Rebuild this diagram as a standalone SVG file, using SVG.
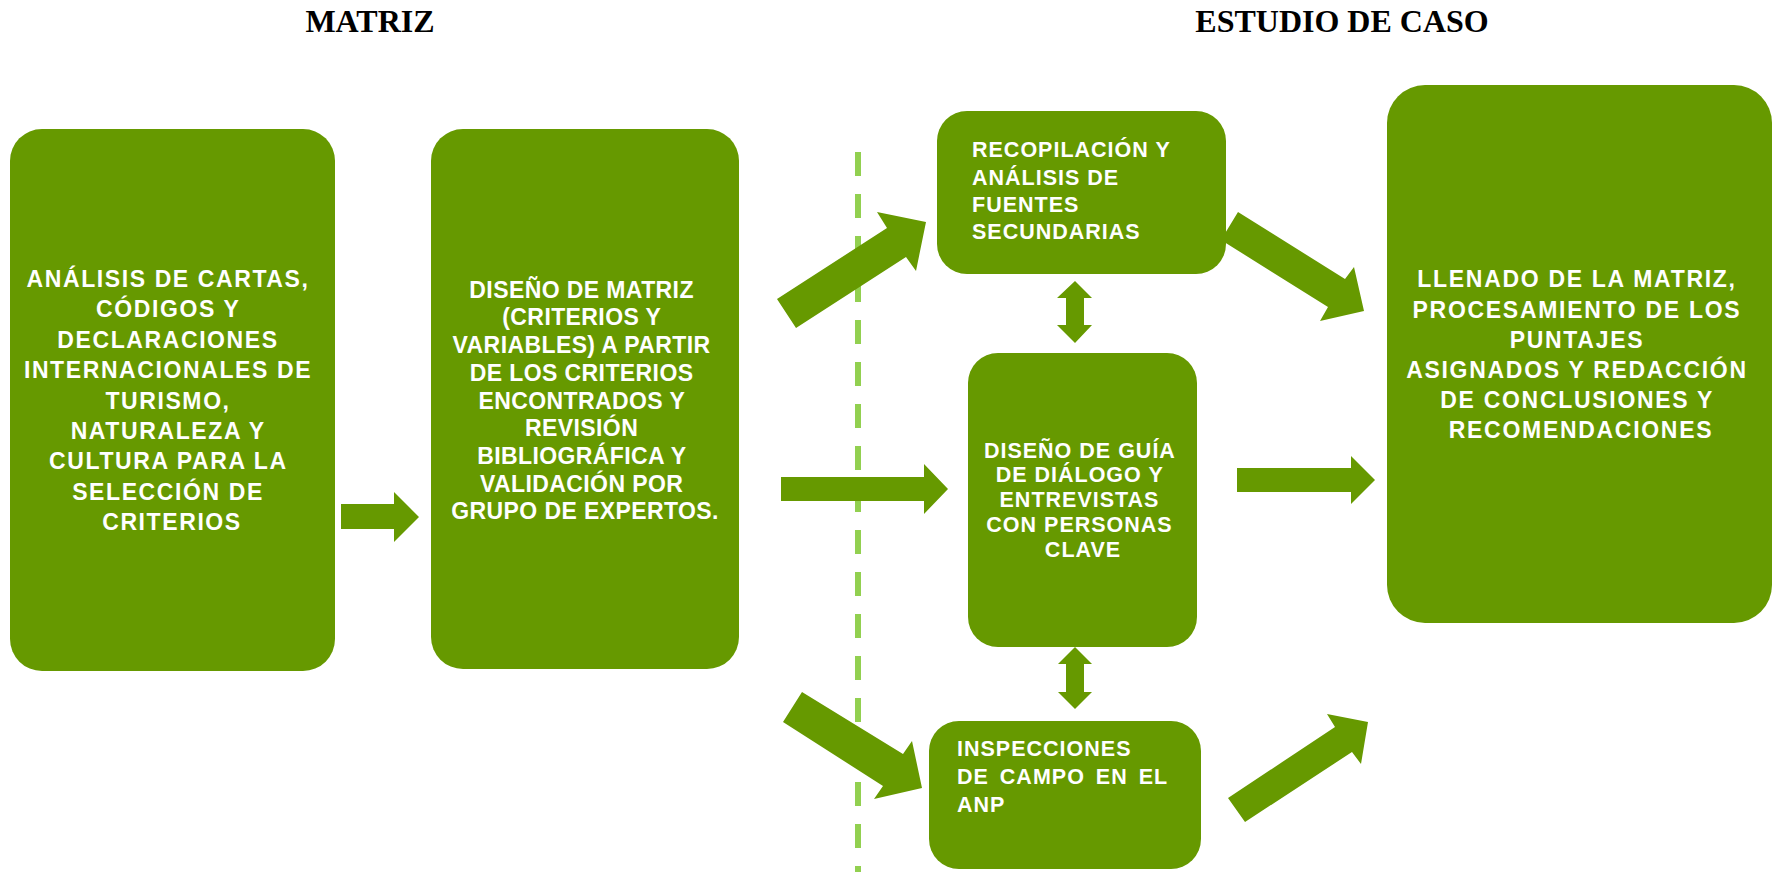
<svg xmlns="http://www.w3.org/2000/svg" width="1772" height="872" viewBox="0 0 1772 872">
<style>
.box{fill:#669900}
.arr{fill:#669900}
.title{font-family:"Liberation Serif","Times New Roman",serif;font-weight:bold;font-size:32px;fill:#000;text-anchor:middle}
.t{font-family:"Liberation Sans",Arial,sans-serif;font-weight:bold;fill:#fff}
.c{text-anchor:middle}
.sep{stroke:#92D050;stroke-width:6;stroke-dasharray:24 18;fill:none}
</style>
<rect width="1772" height="872" fill="#fff"/>
<text class="title" x="370" y="32">MATRIZ</text>
<text class="title" x="1342" y="32">ESTUDIO DE CASO</text>
<line id="separator" class="sep" x1="858" y1="152" x2="858" y2="872"/>
<g id="connectors">
<polygon class="arr" points="341,504 394,504 394,492 419,517 394,542 394,529 341,529"/>
<polygon class="arr" points="781,477 924,477 924,464 948,489 924,514 924,501 781,501"/>
<polygon class="arr" points="1237,468 1351,468 1351,456 1375,480 1351,504 1351,492 1237,492"/>
<polygon class="arr" points="777,299 887,228 877,212 926,222 916,271 906,257 796,328"/>
<polygon class="arr" points="1238,212 1345,279 1354,267 1364,311 1320,321 1328,307 1221,240"/>
<polygon class="arr" points="802,692 903,754 912,741 922,788 874,799 883,786 783,722"/>
<polygon class="arr" points="1228,798 1335,727 1327,714 1368,722 1361,764 1352,752 1245,822"/>
<polygon class="arr" points="1075,281 1092,298 1084,298 1084,325 1092,325 1075,343 1057,325 1066,325 1066,298 1057,298"/>
<polygon class="arr" points="1075,647 1092,664 1084,664 1084,692 1092,692 1075,709 1058,692 1066,692 1066,664 1058,664"/>
</g>
<g id="analisis">
<rect class="box" x="10" y="129" width="325" height="542" rx="32" ry="32"/>
<text class="t c" font-size="23" letter-spacing="1.6">
<tspan x="172" y="287">ANÁLISIS DE CARTAS,</tspan>
<tspan x="172" y="317.4">CÓDIGOS Y</tspan>
<tspan x="172" y="347.8">DECLARACIONES</tspan>
<tspan x="172" y="378.2">INTERNACIONALES DE</tspan>
<tspan x="172" y="408.6">TURISMO,</tspan>
<tspan x="172" y="439">NATURALEZA Y</tspan>
<tspan x="172" y="469.4">CULTURA PARA LA</tspan>
<tspan x="172" y="499.8">SELECCIÓN DE</tspan>
<tspan x="172" y="530.2">CRITERIOS</tspan>
</text>
</g>
<g id="diseno-matriz">
<rect class="box" x="431" y="129" width="308" height="540" rx="32" ry="32"/>
<text class="t c" font-size="23" letter-spacing="0.4">
<tspan x="585" y="297.7">DISEÑO DE MATRIZ</tspan>
<tspan x="585" y="325.4">(CRITERIOS Y</tspan>
<tspan x="585" y="353.1">VARIABLES) A PARTIR</tspan>
<tspan x="585" y="380.8">DE LOS CRITERIOS</tspan>
<tspan x="585" y="408.5">ENCONTRADOS Y</tspan>
<tspan x="585" y="436.2">REVISIÓN</tspan>
<tspan x="585" y="463.9">BIBLIOGRÁFICA Y</tspan>
<tspan x="585" y="491.6">VALIDACIÓN POR</tspan>
<tspan x="585" y="519.3">GRUPO DE EXPERTOS.</tspan>
</text>
</g>
<g id="recopilacion">
<rect class="box" x="937" y="111" width="289" height="163" rx="30" ry="30"/>
<text class="t" font-size="21.5" letter-spacing="1">
<tspan x="972" y="157.3">RECOPILACIÓN  Y</tspan>
<tspan x="972" y="184.5">ANÁLISIS DE</tspan>
<tspan x="972" y="211.8">FUENTES</tspan>
<tspan x="972" y="239">SECUNDARIAS</tspan>
</text>
</g>
<g id="diseno-guia">
<rect class="box" x="968" y="353" width="229" height="294" rx="30" ry="30"/>
<text class="t c" font-size="21.5" letter-spacing="1">
<tspan x="1083" y="457.5">DISEÑO DE GUÍA</tspan>
<tspan x="1083" y="482.3">DE DIÁLOGO Y</tspan>
<tspan x="1083" y="507.1">ENTREVISTAS</tspan>
<tspan x="1083" y="531.9">CON PERSONAS</tspan>
<tspan x="1083" y="556.7">CLAVE</tspan>
</text>
</g>
<g id="inspecciones">
<rect class="box" x="929" y="721" width="272" height="148" rx="30" ry="30"/>
<text class="t" font-size="21.5" letter-spacing="1" word-spacing="4">
<tspan x="957" y="756">INSPECCIONES</tspan>
<tspan x="957" y="783.7">DE CAMPO EN EL</tspan>
<tspan x="957" y="811.5">ANP</tspan>
</text>
</g>
<g id="llenado">
<rect class="box" x="1387" y="85" width="385" height="538" rx="38" ry="38"/>
<text class="t c" font-size="23" letter-spacing="1.7">
<tspan x="1581" y="287.3">LLENADO DE LA MATRIZ,</tspan>
<tspan x="1581" y="317.5">PROCESAMIENTO DE LOS</tspan>
<tspan x="1581" y="347.7">PUNTAJES</tspan>
<tspan x="1581" y="377.9">ASIGNADOS Y REDACCIÓN</tspan>
<tspan x="1581" y="408.1">DE CONCLUSIONES Y</tspan>
<tspan x="1581" y="438.3">RECOMENDACIONES</tspan>
</text>
</g>
</svg>
